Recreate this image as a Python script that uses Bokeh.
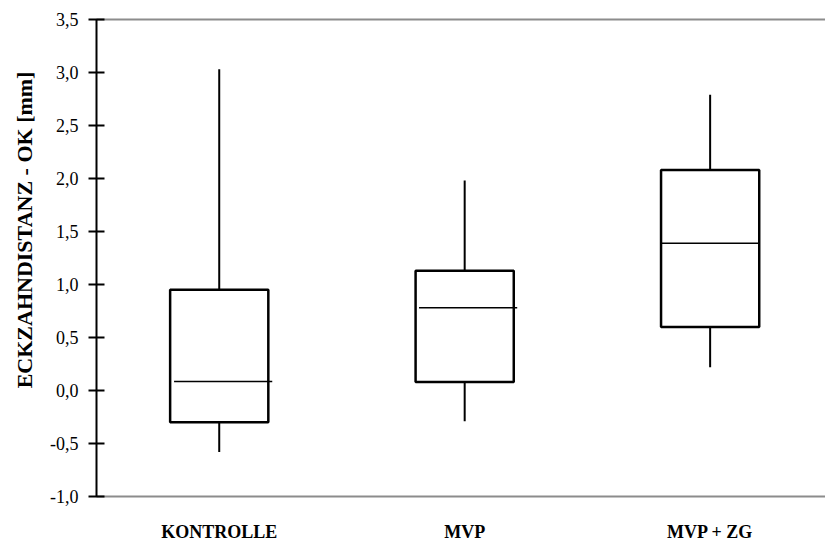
import math
from bokeh.plotting import figure
from bokeh.layouts import row
from bokeh.models import Range1d, FixedTicker, LinearAxis, CustomJSTickFormatter, ColumnDataSource, Label
from bokeh.embed import file_html
from bokeh.resources import INLINE

# Data
categories = ["KONTROLLE", "MVP", "MVP + ZG"]
whisker_low = [-0.58, -0.29, 0.22]
box_low = [-0.30, 0.08, 0.60]
median = [0.085, 0.78, 1.39]
box_high = [0.95, 1.13, 2.08]
whisker_high = [3.03, 1.98, 2.79]
y_ticks = [-1.0, -0.5, 0.0, 0.5, 1.0, 1.5, 2.0, 2.5, 3.0, 3.5]
y_title = "ECKZAHNDISTANZ - OK [mm]"

FONT = "Liberation Serif"

x = [i + 0.5 for i in range(len(categories))]
half_w = 0.2
med_shift = [0.016, 0.014, 0.0]

src = ColumnDataSource(dict(
    x=x,
    left=[v - half_w for v in x],
    right=[v + half_w for v in x],
    wl=whisker_low, bl=box_low, med=median, bh=box_high, wh=whisker_high,
    ml=[v - half_w + s for v, s in zip(x, med_shift)],
    mr=[v + half_w + s for v, s in zip(x, med_shift)],
))

# narrow side panel holding the rotated y title
t = figure(width=40, height=544, output_backend="svg", toolbar_location=None,
           x_range=Range1d(0, 40), y_range=Range1d(0, 544),
           min_border=0)
t.axis.visible = False
t.grid.visible = False
t.outline_line_color = None
t.add_layout(Label(x=24, y=304, text=y_title, angle=math.pi / 2,
                   text_align="center", text_baseline="middle",
                   text_font=FONT, text_font_style="bold", text_font_size="22px",
                   text_color="black"))

p = figure(width=785, height=544, output_backend="svg", toolbar_location=None,
           x_range=Range1d(0, 2.97), y_range=Range1d(-1.0, 3.5),
           min_border_left=56, min_border_top=19, min_border_bottom=48, min_border_right=0)
p.outline_line_color = None
p.xgrid.visible = False
p.ygrid.visible = False
p.background_fill_color = "white"

# whiskers
p.segment(x0="x", y0="wl", x1="x", y1="bl", source=src, line_color="black", line_width=2)
p.segment(x0="x", y0="bh", x1="x", y1="wh", source=src, line_color="black", line_width=2)
# boxes
p.quad(left="left", right="right", bottom="bl", top="bh", source=src,
       fill_color="white", line_color="black", line_width=2.5)
# medians
p.segment(x0="ml", y0="med", x1="mr", y1="med", source=src, line_color="black", line_width=1.5)

# y axis
ya = p.yaxis[0]
ya.ticker = FixedTicker(ticks=y_ticks)
ya.formatter = CustomJSTickFormatter(code="return tick.toFixed(1).replace('.', ',');")
ya.axis_line_color = "black"
ya.axis_line_width = 2
ya.major_tick_line_color = "black"
ya.major_tick_line_width = 2
ya.major_tick_in = 8
ya.major_tick_out = 8
ya.minor_tick_line_color = None
ya.major_label_text_font = FONT
ya.major_label_text_font_size = "18px"
ya.major_label_text_color = "black"
ya.major_label_standoff = 10

# x axis
xa = p.xaxis[0]
xa.ticker = FixedTicker(ticks=x)
xa.major_label_overrides = {v: c for v, c in zip(x, categories)}
xa.axis_line_color = "#8c8c8c"
xa.axis_line_width = 2
xa.major_tick_line_color = None
xa.minor_tick_line_color = None
xa.major_label_text_font = FONT
xa.major_label_text_font_style = "bold"
xa.major_label_text_font_size = "18px"
xa.major_label_text_color = "black"
xa.major_label_standoff = 19

# top gray line
top = LinearAxis(ticker=FixedTicker(ticks=[]), axis_line_color="#8c8c8c", axis_line_width=2,
                 major_tick_line_color=None, minor_tick_line_color=None,
                 major_label_text_font_size="0px")
p.add_layout(top, "above")

layout = row(t, p, spacing=0)
open("out.html", "w").write(file_html(layout, INLINE))
